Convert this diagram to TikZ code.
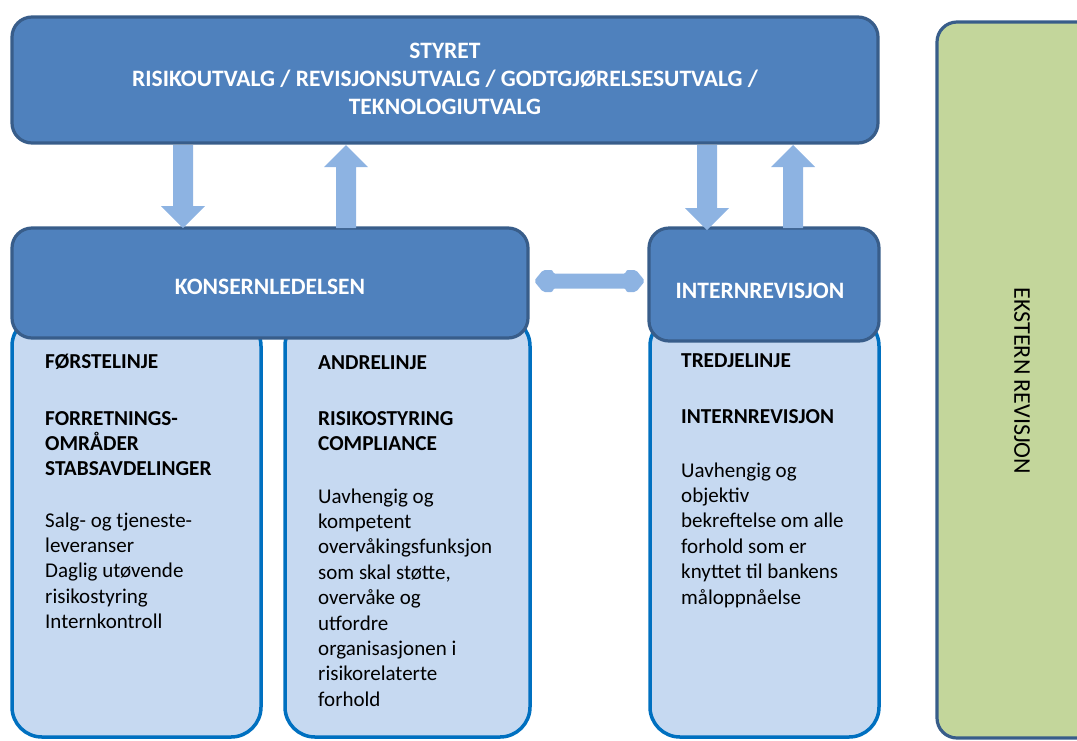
\documentclass[tikz,border=0pt]{standalone}
\usepackage{fontspec}
\setmainfont{Carlito}
\usetikzlibrary{calc}
\definecolor{hdfill}{HTML}{4F81BD}
\definecolor{hdline}{HTML}{385D8A}
\definecolor{arrowc}{HTML}{8DB3E2}
\definecolor{lbfill}{HTML}{C6D9F1}
\definecolor{lbline}{HTML}{0070C0}
\definecolor{grfill}{HTML}{C3D69B}
\tikzset{
  hdbox/.style={fill=hdfill, draw=hdline, line width=3.2pt, rounded corners=20pt},
  lbbox/.style={fill=lbfill, draw=lbline, line width=3.5pt, rounded corners=30pt},
  grbox/.style={fill=grfill, draw=hdline, line width=3.2pt, rounded corners=20pt},
  wtxt/.style={text=white, font=\fontsize{23.5}{28}\selectfont\bfseries, align=center, inner sep=0pt},
  btxt/.style={text=black, font=\fontsize{21.3}{25.4}\selectfont\bfseries, align=left, inner sep=0pt, anchor=base west},
  ntxt/.style={text=black, font=\fontsize{21}{25.4}\selectfont, align=left, inner sep=0pt, anchor=base west},
  blockarrow/.style={fill=arrowc, draw=none}
}
\newcommand{\arrdown}[3]{% x, ytop, ybottom(tip)
  \fill[blockarrow] (#1-10,#2) -- (#1+10,#2) -- (#1+10,#3-22) -- (#1+22,#3-22) -- (#1,#3) -- (#1-22,#3-22) -- (#1-10,#3-22) -- cycle;}
\newcommand{\arrup}[3]{% x, ytip, ybottom
  \fill[blockarrow] (#1-10,#3) -- (#1+10,#3) -- (#1+10,#2+22) -- (#1+22,#2+22) -- (#1,#2) -- (#1-22,#2+22) -- (#1-10,#2+22) -- cycle;}
\begin{document}
\begin{tikzpicture}[x=1pt,y=-1pt]
\useasboundingbox (0,0) rectangle (1077,740);
% external audit
\draw[grbox] (937,22) rectangle (1100,738);
\node[rotate=-90, font=\fontsize{24}{28}\selectfont, inner sep=0pt] (ekst) at (1022,381) {EKSTERN REVISJON};
% lower boxes
\draw[lbbox] (12,316) rectangle (261,737);
\draw[lbbox] (285,316) rectangle (530,737);
\draw[lbbox] (650,316) rectangle (879,737);
% top box
\draw[hdbox] (12,17) rectangle (878,143);
\node[wtxt, anchor=base] (styret) at (445,114) {STYRET\\RISIKOUTVALG / REVISJONSUTVALG / GODTGJØRELSESUTVALG /\\TEKNOLOGIUTVALG};
% management boxes
\draw[hdbox] (12,228) rectangle (528,338);
\node[wtxt, anchor=base] (kons) at (270,294) {KONSERNLEDELSEN};
\draw[hdbox] (649,228) rectangle (879,341);
\node[wtxt, anchor=base] (intrev) at (760,298) {INTERNREVISJON};
% arrows
\arrdown{183}{145}{228}
\arrup{346}{145}{228}
\arrdown{707}{145}{230}
\arrup{793}{145}{228}
\fill[blockarrow, rounded corners=2pt] (534,281) -- (543,270) -- (553,270) -- (553,273.5) -- (626,273.5) -- (626,270) -- (636,270) -- (645,281) -- (636,292) -- (626,292) -- (626,288.5) -- (553,288.5) -- (553,292) -- (543,292) -- cycle;
% box 1 texts (anchor = baseline of last line)
\node[btxt] (f1) at (45,368) {FØRSTELINJE};
\node[btxt] (f2) at (45,475.8) {FORRETNINGS-\\OMRÅDER\\STABSAVDELINGER};
\node[ntxt] (f3) at (45,628.6) {Salg- og tjeneste-\\leveranser\\Daglig utøvende\\risikostyring\\Internkontroll};
% box 2 texts
\node[btxt] (a1) at (318,369) {ANDRELINJE};
\node[btxt] (a2) at (318,450.4) {RISIKOSTYRING\\COMPLIANCE};
\node[ntxt] (a3) at (318,706.2) {Uavhengig og\\kompetent\\overvåkingsfunksjon\\som skal støtte,\\overvåke og\\utfordre\\organisasjonen i\\risikorelaterte\\forhold};
% box 3 texts
\node[btxt] (t1) at (681,367) {TREDJELINJE};
\node[btxt] (t2) at (681,423) {INTERNREVISJON};
\node[ntxt] (t3) at (681,604) {Uavhengig og\\objektiv\\bekreftelse om alle\\forhold som er\\knyttet til bankens\\måloppnåelse};
\end{tikzpicture}
\end{document}
